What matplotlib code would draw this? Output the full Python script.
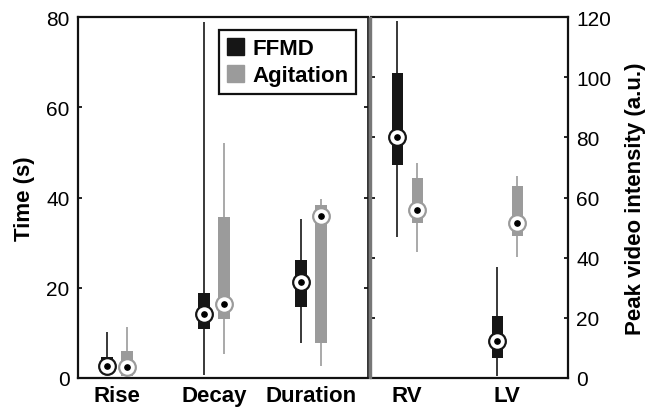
import matplotlib
matplotlib.use('Agg')
import matplotlib.pyplot as plt
from matplotlib.patches import Patch
from matplotlib import rcParams

rcParams['font.family'] = 'Liberation Sans'

# time measures (s), left axis
time_labels = ['Rise', 'Decay', 'Duration']
ffmd_time_lo = [1.0, 0.7, 7.7]
ffmd_time_q1 = [1.6, 10.9, 15.7]
ffmd_time_med = [2.7, 14.2, 21.3]
ffmd_time_q3 = [4.6, 18.8, 26.1]
ffmd_time_hi = [10.2, 79.0, 35.2]

agit_time_lo = [0.0, 5.3, 2.7]
agit_time_q1 = [0.5, 13.1, 7.7]
agit_time_med = [2.4, 16.4, 35.8]
agit_time_q3 = [6.0, 35.7, 38.4]
agit_time_hi = [11.3, 52.0, 39.7]

# peak video intensity (a.u.), right axis
int_labels = ['RV', 'LV']
ffmd_int_lo = [47.0, 0.8]
ffmd_int_q1 = [70.8, 6.6]
ffmd_int_med = [80.2, 12.4]
ffmd_int_q3 = [101.4, 20.7]
ffmd_int_hi = [118.6, 37.0]

agit_int_lo = [41.8, 40.3]
agit_int_q1 = [51.5, 47.3]
agit_int_med = [56.0, 51.5]
agit_int_q3 = [66.5, 63.7]
agit_int_hi = [71.5, 67.3]

BLACK = '#161616'
GRAY = '#9b9b9b'


def draw_boxes(ax, pos, lo, q1, med, q3, hi, color, width):
    ax.vlines(pos, lo, hi, color=color, lw=1.2, zorder=2)
    ax.bar(pos, [b - a for a, b in zip(q1, q3)], bottom=q1, width=width,
           color=color, zorder=3)
    ax.plot(pos, med, 'o', ms=12, mfc='white', mec=color, mew=1.6, zorder=4)
    ax.plot(pos, med, 'o', ms=3.8, color='black', zorder=5)


def style_axis(ax):
    for s in ax.spines.values():
        s.set_linewidth(1.6)
        s.set_color('#111111')
    ax.tick_params(axis='y', direction='in', length=3, width=1.2,
                   labelsize=15, pad=6, left=True, right=True)
    ax.tick_params(axis='x', length=0, labelsize=16, pad=5)
    for t in ax.get_xticklabels():
        t.set_fontweight('bold')


fig = plt.figure(figsize=(6.47, 4.10), dpi=100)
ax1 = fig.add_axes([78 / 647, 31 / 410, 290 / 647, 361 / 410])
ax2 = fig.add_axes([371 / 647, 31 / 410, 197 / 647, 361 / 410])

# left panel
xs = [1, 2, 3]
d = 0.103
draw_boxes(ax1, [x - d for x in xs], ffmd_time_lo, ffmd_time_q1, ffmd_time_med,
           ffmd_time_q3, ffmd_time_hi, BLACK, 0.115)
draw_boxes(ax1, [x + d for x in xs], agit_time_lo, agit_time_q1, agit_time_med,
           agit_time_q3, agit_time_hi, GRAY, 0.115)
ax1.set_xlim(0.598, 3.588)
ax1.set_ylim(0, 80)
ax1.set_yticks([0, 20, 40, 60, 80])
ax1.set_xticks(xs)
ax1.set_xticklabels(time_labels)
ax1.set_ylabel('Time (s)', fontsize=16, fontweight='bold', labelpad=8)
style_axis(ax1)
ax1.tick_params(axis='y', labelright=False)
ax1.spines['right'].set_linewidth(1.2)

leg = ax1.legend(handles=[Patch(color=BLACK, label='FFMD'),
                          Patch(color=GRAY, label='Agitation')],
                 loc='upper left', bbox_to_anchor=(0.486, 0.964),
                 borderaxespad=0, fancybox=False, framealpha=1,
                 handlelength=0.8, handleheight=0.8, handletextpad=0.35,
                 borderpad=0.35, labelspacing=0.25,
                 prop={'weight': 'bold', 'size': 16})
leg.get_frame().set_edgecolor('#111111')
leg.get_frame().set_linewidth(1.6)

# right panel
xs2 = [1, 2]
d2 = 0.1
draw_boxes(ax2, [x - d2 for x in xs2], ffmd_int_lo, ffmd_int_q1, ffmd_int_med,
           ffmd_int_q3, ffmd_int_hi, BLACK, 0.11)
draw_boxes(ax2, [x + d2 for x in xs2], agit_int_lo, agit_int_q1, agit_int_med,
           agit_int_q3, agit_int_hi, GRAY, 0.11)
ax2.set_xlim(0.64, 2.61)
ax2.set_ylim(0, 120)
ax2.set_yticks([0, 20, 40, 60, 80, 100, 120])
ax2.set_xticks(xs2)
ax2.set_xticklabels(int_labels)
ax2.yaxis.set_label_position('right')
ax2.set_ylabel('Peak video intensity (a.u.)', fontsize=16,
               fontweight='bold', labelpad=10)
style_axis(ax2)
ax2.tick_params(axis='y', labelleft=False, labelright=True)
ax2.spines['left'].set_linewidth(1.2)

# gray strip between the two panels
fig.patches.append(plt.Rectangle((368.6 / 647, 31 / 410), 2 / 647, 361 / 410,
                                 transform=fig.transFigure, color='#777777',
                                 zorder=0))

fig.savefig('out.png', dpi=100)
